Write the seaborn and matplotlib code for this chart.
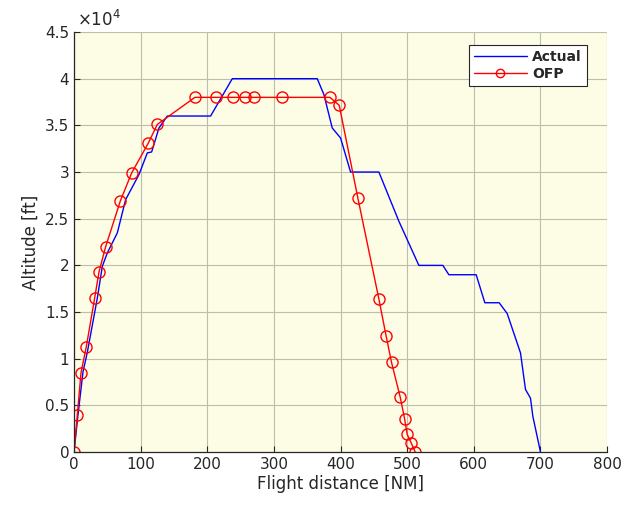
import numpy as np
import pandas as pd
import matplotlib
matplotlib.use("Agg")
import matplotlib.pyplot as plt
import seaborn as sns

# 실제 비행 (Actual) - 거리 [NM], 고도 [ft]
actual_dist = [0, 6, 13.5, 20, 27.5, 35, 42.5, 50, 65, 77.5, 97.5, 110, 116.5, 127.5, 140,
               205, 237.5, 365, 375, 387.5, 400, 415, 457.5, 487.5, 517.5, 553.5, 562.5,
               603.5, 616.5, 638, 650, 670, 677.5, 685, 688.5, 700]
actual_alt = [0, 4000, 8600, 10700, 13600, 16500, 19900, 21340, 23480, 27050, 29730, 32050, 32150,
              34720, 36000, 36000, 40000, 40000, 38300, 34720, 33650, 30000, 30000, 24730, 20000,
              20000, 19000, 19000, 16000, 16000, 14850, 10630, 6710, 5780, 3850, 0]

# 비행 계획 (OFP)
ofp_dist = [0, 5, 10.5, 18.5, 31, 37.5, 47.5, 69.5, 86.5, 111.5, 125, 181.5, 213.5, 239,
            257, 270, 312.5, 384, 398, 426, 457.5, 468.5, 476.5, 489.5, 496, 500, 506, 512]
ofp_alt = [0, 4000, 8500, 11300, 16500, 19300, 22000, 26900, 29900, 33100, 35100, 38000, 38000, 38000,
           38000, 38000, 38000, 38000, 37150, 27200, 16400, 12400, 9600, 5900, 3600, 1900, 1000, 0]

df_actual = pd.DataFrame({"dist": actual_dist, "alt": actual_alt})
df_ofp = pd.DataFrame({"dist": ofp_dist, "alt": ofp_alt})

sns.set_style("ticks")
plt.rcParams['font.family'] = ['DejaVu Sans']

fig = plt.figure(figsize=(6.25, 5.08), dpi=100)
ax = fig.add_axes([0.1184, 0.110, 0.853, 0.827])
ax.set_facecolor("#fdfde6")

sns.lineplot(data=df_actual, x="dist", y="alt", sort=False, estimator=None,
             color="#0000ff", linewidth=1.0, label="Actual", ax=ax)
sns.lineplot(data=df_ofp, x="dist", y="alt", sort=False, estimator=None,
             color="#ff0000", linewidth=1.0, marker="o", markersize=8,
             markerfacecolor="none", markeredgecolor="#ff0000", markeredgewidth=1.0,
             label="OFP", ax=ax)

ax.set_xlim(0, 800)
ax.set_ylim(0, 45000)
ax.set_xticks(np.arange(0, 801, 100))
yt = np.arange(0, 45001, 5000)
ax.set_yticks(yt)
ax.set_yticklabels([f"{v/1e4:g}" for v in yt])
ax.grid(True, color="#bdbdad", linewidth=0.8)
ax.set_axisbelow(True)
ax.tick_params(direction="in", labelsize=11, colors="#262626", length=4)
for s in ["top", "right"]:
    ax.spines[s].set_visible(False)
for s in ["left", "bottom"]:
    ax.spines[s].set_color("#262626")
    ax.spines[s].set_linewidth(0.9)

ax.text(0.005, 1.005, r"$\times 10^4$", transform=ax.transAxes, fontsize=12,
        color="#262626", ha="left", va="bottom")

ax.set_xlabel("Flight distance [NM]", fontsize=12, color="#262626", labelpad=2)
ax.set_ylabel("Altitude [ft]", fontsize=12, color="#262626", labelpad=4)

leg = ax.legend(loc="upper right", bbox_to_anchor=(0.975, 0.985),
                prop={"size": 10, "weight": "bold"}, markerscale=0.75,
                frameon=True, fancybox=False, framealpha=1, edgecolor="#262626",
                handlelength=3.8, borderpad=0.35, labelspacing=0.2, handletextpad=0.4)
leg.get_frame().set_linewidth(0.8)

fig.savefig("out.png", dpi=100)
